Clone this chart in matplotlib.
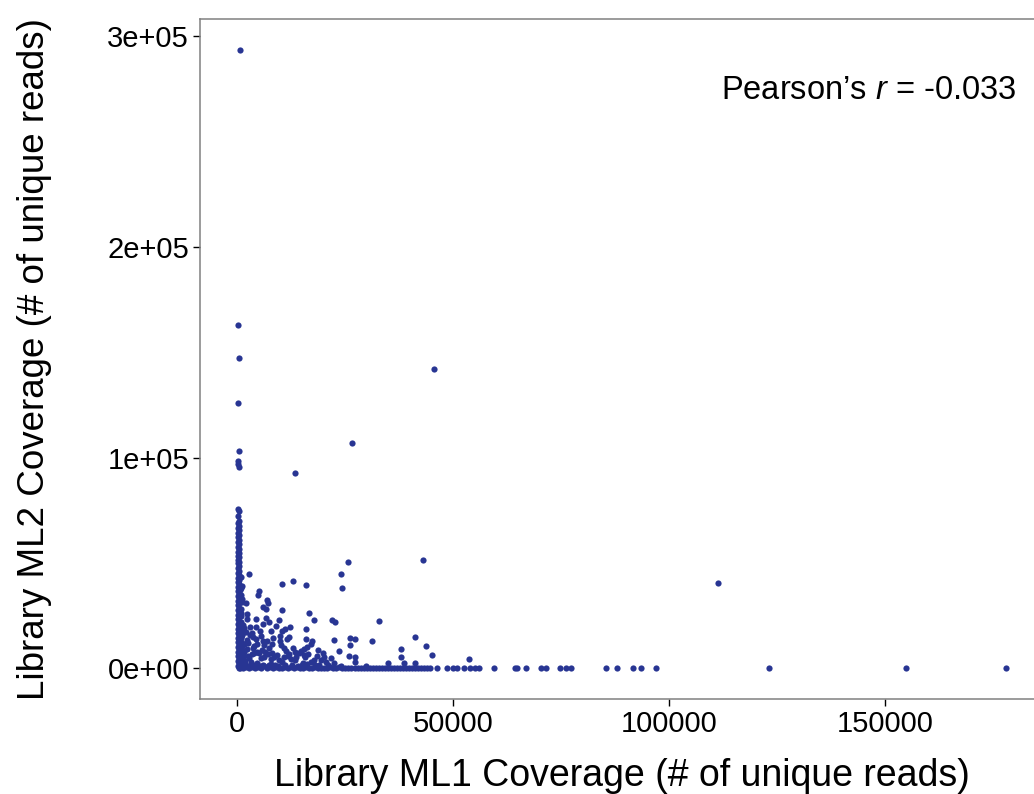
import matplotlib
matplotlib.use("Agg")
import matplotlib.pyplot as plt
from matplotlib.ticker import FuncFormatter

plt.rcParams["font.family"] = ["Liberation Sans", "DejaVu Sans"]
plt.rcParams["mathtext.fontset"] = "custom"
plt.rcParams["mathtext.rm"] = "Liberation Sans"
plt.rcParams["mathtext.it"] = "Liberation Sans:italic"

# ==========================================
# Data (unique reads per region)
# ==========================================

# column of points at ML1 ~ 0
col_x = [580, 300, 350, 300, 350, 300, 300, 350, 300, 350, 300, 350, 300, 350,
         300, 350, 300, 350, 300, 350, 300, 350, 300, 350, 300, 350, 300, 350,
         300, 350, 300, 350, 300, 350, 300, 350, 300, 350, 300, 350, 300, 350,
         300, 350, 300, 350, 300, 350, 300, 350, 300, 350, 300, 350, 300, 350,
         300, 350, 300, 350, 300, 350, 300, 350, 300, 350, 300, 350, 300, 350,
         300, 350, 300, 350, 300, 350]
col_y = [293400, 163000, 147400, 125900, 103300, 98200, 96800, 95500, 75500, 74700,
         72300, 70100, 69000, 67600, 66400, 65500, 64300, 63200, 62100, 61000,
         60000, 58900, 57600, 56500, 55400, 54600, 53500, 52700, 51600, 50600,
         49900, 48700, 47500, 46400, 45300, 44200, 43100, 42000, 40900, 39800,
         38700, 37600, 36500, 35400, 34300, 33200, 32100, 31000, 29900, 28800,
         27700, 26600, 25500, 24400, 23300, 22200, 21100, 20000, 18900, 17800,
         16700, 15600, 14500, 13400, 12300, 11200, 10100, 9000, 7900, 6800,
         5700, 4600, 3500, 2400, 1300, 200]

# slightly wider part of the column near the origin
col2_x = [900, 1100, 800, 1200, 900, 1000, 800, 1300, 900, 1100, 1000, 800,
          1200, 900, 1400, 1000, 800, 1100, 900, 1300, 1000, 1500, 700, 1200,
          900, 1600, 800, 1300, 1000, 1800]
col2_y = [43500, 39000, 35000, 31500, 28000, 25000, 22000, 20500, 18000, 16000,
          14200, 12500, 10800, 9600, 8200, 7000, 6000, 5000, 4000, 3000, 2000, 1000,
          37000, 33000, 26500, 11500, 19200, 6500, 15000, 3500]

# row of points at ML2 ~ 0
row_x = [600, 1300, 2000, 2700, 3400, 4100, 4800, 5500, 6200, 6900, 7600, 8300,
         9000, 9700, 10400, 11100, 11800, 12500, 13200, 13900, 14600, 15300,
         16000, 16700, 17400, 18100, 18800, 19500, 20200, 20900, 21600, 22300,
         23000, 23700, 24400, 25100, 25800, 26500, 27200, 27900, 28600, 29300,
         30000, 30700, 31400, 32100, 32800, 33500, 34200, 34900, 35600, 36300,
         37000, 37700, 38400, 39100, 39800, 40500, 41200, 41900, 42600, 43300,
         44000, 44700, 46400, 48600, 50000, 51000, 52500, 53900, 55200, 56000,
         59400, 64300, 64900, 67000, 70400, 71500, 74900, 76200, 77400, 85400,
         87900, 91800, 93500, 97100, 123200, 154900, 178100]
row_y = [300, 0, 600, 200, 800, 0, 500, 300, 900, 100, 600, 200,
         700, 0, 400, 800, 100, 500, 0, 700, 300, 0,
         600, 200, 0, 500, 100, 400, 0, 300, 600, 0,
         200, 500, 0, 300, 0, 400, 100, 0, 300, 0,
         200, 0, 400, 0, 100, 300, 0, 200, 0, 100,
         0, 300, 0, 100, 0, 200, 0, 100, 0, 0,
         100, 0, 0, 0, 0, 0, 0, 0, 0, 0,
         0, 0, 0, 0, 0, 0, 0, 0, 0, 0,
         0, 0, 0, 0, 0, 0, 0]

# scattered cloud
cloud_x = [2800, 10300, 13000, 16000, 24100, 24300, 25600, 5000, 4800, 6900,
           7100, 2100, 6100, 6700, 10400, 16700, 21900, 22600, 17700, 4400,
           2300, 6600, 7400, 9800, 3100, 1700, 12300, 10300, 11200, 16000,
           5400, 5500, 7900, 3400, 3800, 10000, 12100, 11600, 22500, 26200,
           27300, 16000, 17400, 2200, 4400, 6900, 9900, 17100, 16300, 15600,
           26200, 4700, 6300, 8200, 10800, 11400, 12900, 14800, 15400, 15700,
           19800, 20200, 19400, 21800, 23700, 26000, 27200, 27400, 18500, 17900,
           31300, 32900, 41200, 43700, 45100, 38000, 37900, 38600, 35000, 29900,
           53600, 43000, 41200, 13400, 26700, 45700, 1000,
           900, 1700, 2400, 3600, 4000, 4700, 5700, 6300, 7100, 8600,
           9800, 10900, 12500, 13600, 1700, 3200, 4700, 7900, 10500, 13300,
           15200, 17100, 20600, 22500, 16300, 1300, 2800, 5500, 7900, 12100,
           14400, 111500,
           2000, 3000, 4200, 5200, 6000, 7500, 8800, 9500, 11000, 12800,
           14000, 15000, 18000, 19000, 21000, 24000, 2500, 3500, 5000, 6500,
           8000, 9200, 11800, 13500, 16500, 18800, 1500, 2600, 3900, 5900,
           7300, 8400, 10200, 1200, 2000, 3000, 4300, 6000, 9000, 2400]
cloud_y = [44800, 40100, 41400, 39600, 44700, 38200, 50500, 36800, 34700, 32400,
           31100, 30800, 29200, 28400, 27600, 26500, 22900, 22100, 22900, 23500,
           23500, 23700, 22100, 22900, 19700, 19000, 19400, 17800, 18500, 18500,
           17800, 15300, 17700, 16600, 14700, 15300, 14700, 13700, 13400, 14200,
           13700, 14000, 13100, 13400, 13700, 12900, 12900, 11800, 10000, 9300,
           11000, 11500, 11000, 11500, 9500, 8300, 9500, 8300, 6300, 5200,
           7400, 5500, 3900, 5000, 8300, 6000, 5500, 3100, 5700, 3900,
           12900, 22600, 15000, 10400, 6300, 9100, 5200, 2700, 2700, 1100,
           4400, 51500, 2700, 92700, 106900, 142200, 38000,
           10200, 7900, 9000, 9500, 7100, 7900, 8700, 5500, 6600, 5500,
           3900, 5500, 4300, 5200, 2400, 3100, 2400, 2000, 3100, 3900,
           2400, 3100, 3100, 2400, 2000, 5500, 4700, 4700, 4500, 6800,
           7100, 40500,
           1500, 1200, 1700, 1300, 1600, 1400, 1800, 1200, 1500, 1700,
           1300, 1600, 1400, 1800, 1500, 1300, 6000, 6800, 7200, 8000,
           7400, 6500, 5800, 7900, 7000, 8700, 11800, 12000, 10800, 13200,
           9900, 14200, 11200, 16200, 17200, 15800, 19800, 21000, 20200, 26000]

pearson_r = -0.033
x_ticks = [0, 50000, 100000, 150000]
y_ticks = [0, 100000, 200000, 300000]

# ==========================================
# Plot
# ==========================================

point_color = "#283593"

fig = plt.figure(figsize=(10.34, 7.94), dpi=100)
ax = fig.add_axes([200 / 1034, 1 - 699.3 / 794, 844.4 / 1034, 680.3 / 794])

for xs, ys in [(col_x, col_y), (col2_x, col2_y), (row_x, row_y), (cloud_x, cloud_y)]:
    ax.scatter(xs, ys, s=20, color=point_color, linewidths=0, zorder=3)

# ggplot-like 5% expansion of the data range
all_x = col_x + col2_x + row_x + cloud_x
all_y = col_y + col2_y + row_y + cloud_y
dx = (max(all_x) - min(all_x)) * 0.05
dy = (max(all_y) - min(all_y)) * 0.05
ax.set_xlim(min(all_x) - dx, max(all_x) + dx)
ax.set_ylim(min(all_y) - dy, max(all_y) + dy)

ax.set_xticks(x_ticks)
ax.set_yticks(y_ticks)
ax.yaxis.set_major_formatter(FuncFormatter(lambda v, p: f"{v:.0e}"))
ax.xaxis.set_major_formatter(FuncFormatter(lambda v, p: f"{int(v)}"))
ax.tick_params(axis="both", labelsize=21, length=5, width=1,
               color="black", labelcolor="black", pad=3)

for side in ["left", "bottom", "top", "right"]:
    ax.spines[side].set_color("#808080")
    ax.spines[side].set_linewidth(1.1)

ax.set_xlabel("Library ML1 Coverage (# of unique reads)", fontsize=27, labelpad=14)
ax.set_ylabel("Library ML2 Coverage (# of unique reads)", fontsize=26.5, labelpad=40)

fig.text(0.8404, 0.8866, f"Pearson\u2019s $r$ = {pearson_r}",
         ha="center", va="center", fontsize=23.5)

fig.savefig("out.png", dpi=100)
